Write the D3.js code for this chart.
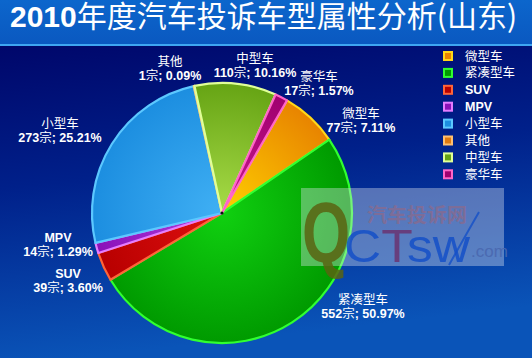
<!DOCTYPE html>
<html>
<head>
<meta charset="utf-8">
<script src="https://cdn.jsdelivr.net/npm/d3@7"></script>
<style>
  html, body { margin: 0; padding: 0; background: #00086a; }
  svg { display: block; }
</style>
</head>
<body>
<svg id="chart" width="532" height="358"></svg>
<script>
// Vehicle-type complaints, Shandong, 2010
const categories = ["微型车", "紧凑型车", "SUV", "MPV", "小型车", "其他", "中型车", "豪华车"];
const counts = [77, 552, 39, 14, 273, 1, 110, 17];
const percentLabels = ["7.11%", "50.97%", "3.60%", "1.29%", "25.21%", "0.09%", "10.16%", "1.57%"];
const titleText = "2010年度汽车投诉车型属性分析(山东)";

// Slice styling: base fill, lighter inner tone, outline colour
const baseColors  = ["#e88400", "#009a00", "#b80000", "#8a10b8", "#1c8ee0", "#e07a10", "#66a414", "#a00070"];
const innerColors = ["#ffd000", "#10d010", "#e01010", "#b040e0", "#40b0f4", "#ffa040", "#a8dc48", "#c8188c"];
const edgeColors  = ["#ffd818", "#30ff30", "#ff6438", "#e47cff", "#5cc8ff", "#ffc070", "#e0ff98", "#ff66c8"];

const W = 532, H = 358;
const svg = d3.select("#chart");
const defs = svg.append("defs");

// Background
const bg = defs.append("linearGradient").attr("id", "bg")
  .attr("x1", 0).attr("y1", 0.12).attr("x2", 0.15).attr("y2", 1);
bg.append("stop").attr("offset", 0).attr("stop-color", "#00066a");
bg.append("stop").attr("offset", 0.45).attr("stop-color", "#00208a");
bg.append("stop").attr("offset", 1).attr("stop-color", "#0a54b8");
svg.append("rect").attr("width", W).attr("height", H).attr("fill", "url(#bg)");

// Title band
const tb = defs.append("linearGradient").attr("id", "titleBand")
  .attr("x1", 0).attr("y1", 0).attr("x2", 0).attr("y2", 1);
tb.append("stop").attr("offset", 0).attr("stop-color", "#0c66cc");
tb.append("stop").attr("offset", 1).attr("stop-color", "#0a58c0");
svg.append("rect").attr("width", W).attr("height", 45).attr("fill", "url(#titleBand)");
svg.append("rect").attr("y", 44).attr("width", W).attr("height", 2).attr("fill", "#3ea6f2");

const title = svg.append("text")
  .attr("x", 10).attr("y", 27)
  .attr("fill", "#ffffff")
  .attr("font-size", 30);
title.append("tspan").attr("font-family", "Liberation Sans, Arial, sans-serif").attr("font-weight", "bold").text(titleText.slice(0, 4));
title.append("tspan").attr("font-family", "Noto Sans CJK SC, sans-serif").attr("font-weight", "normal").text(titleText.slice(4));

// Pie
const cx = 222, cy = 213, R = 130;
const deg = Math.PI / 180;
const pie = d3.pie().sort(null).value(d => d)
  .startAngle(30 * deg).endAngle(390 * deg);
const arcs = pie(counts);
const arc = d3.arc().innerRadius(0).outerRadius(R);

categories.forEach((c, i) => {
  const g = defs.append("radialGradient").attr("id", "slice" + i)
    .attr("gradientUnits", "userSpaceOnUse")
    .attr("cx", 0).attr("cy", 0).attr("r", R);
  g.append("stop").attr("offset", 0).attr("stop-color", innerColors[i]);
  g.append("stop").attr("offset", 1).attr("stop-color", baseColors[i]);
});

const pieG = svg.append("g").attr("transform", `translate(${cx},${cy})`);
pieG.selectAll("path.slice")
  .data(arcs)
  .join("path")
  .attr("class", "slice")
  .attr("d", arc)
  .attr("fill", (d, i) => `url(#slice${i})`)
  .attr("stroke", (d, i) => edgeColors[i])
  .attr("stroke-width", 2.2)
  .attr("stroke-linejoin", "round");
pieG.append("circle").attr("r", 1.6).attr("fill", "#101010");

// Data labels: two lines, category name over "count宗; percent"
const labelOffsets = [
  [139, -100], [141, 86], [-154, 60], [-164, 24],
  [-162, -90], [-52, -152], [33, -155], [97, -137]
];
const latin = "Liberation Sans, Arial, sans-serif";
const cjk = "Noto Sans CJK SC, sans-serif";
const isLatin = s => /^[A-Za-z0-9 ;.%]+$/.test(s);

const labelG = svg.append("g").attr("transform", `translate(${cx},${cy})`);
arcs.forEach((a, i) => {
  const [dx, dy] = labelOffsets[i];
  const t = labelG.append("text")
    .attr("text-anchor", "middle")
    .attr("fill", "#ffffff")
    .attr("font-size", 12.5);
  const name = categories[i];
  t.append("tspan")
    .attr("x", dx).attr("y", dy).attr("dy", "0.36em")
    .attr("font-family", isLatin(name) ? latin : cjk)
    .attr("font-weight", isLatin(name) ? "bold" : "normal")
    .text(name);
  const line2 = t.append("tspan").attr("x", dx).attr("y", dy + 14.5).attr("dy", "0.36em");
  line2.append("tspan").attr("font-family", latin).attr("font-weight", "bold").text(a.data);
  line2.append("tspan").attr("font-family", cjk).attr("font-weight", "normal").text("宗");
  line2.append("tspan").attr("font-family", latin).attr("font-weight", "bold").text("; " + percentLabels[i]);
});

// Legend
const legend = svg.append("g").attr("transform", "translate(443,56)");
const rowStep = 16.9;
categories.forEach((c, i) => {
  const row = legend.append("g").attr("transform", `translate(0,${i * rowStep})`);
  row.append("rect")
    .attr("x", 1).attr("y", -4).attr("width", 8).attr("height", 8)
    .attr("fill", baseColors[i])
    .attr("stroke", edgeColors[i]).attr("stroke-width", 2);
  row.append("text")
    .attr("x", 22).attr("y", 0).attr("dy", "0.36em")
    .attr("fill", "#ffffff")
    .attr("font-size", 12.5)
    .attr("font-family", isLatin(c) ? latin : cjk)
    .attr("font-weight", isLatin(c) ? "bold" : "normal")
    .text(c);
});

// Site watermark
const wm = svg.append("g");
wm.append("rect").attr("x", 301).attr("y", 188).attr("width", 203).attr("height", 78)
  .attr("fill", "#dfe6f0").attr("opacity", 0.38);
wm.append("text")
  .attr("transform", "translate(302,262) scale(0.72,1)")
  .attr("font-family", latin).attr("font-weight", "bold").attr("font-size", 86)
  .attr("fill", "#5a6412").attr("opacity", 0.85)
  .text("Q");
wm.append("text")
  .attr("x", 367).attr("y", 222)
  .attr("font-family", cjk).attr("font-weight", "bold").attr("font-size", 19)
  .attr("fill", "#7d6d98")
  .attr("textLength", 100).attr("lengthAdjust", "spacingAndGlyphs")
  .text("汽车投诉网");
const brand = wm.append("text")
  .attr("x", 344).attr("y", 262)
  .attr("font-family", latin).attr("font-size", 46)
  .attr("textLength", 126).attr("lengthAdjust", "spacingAndGlyphs")
  .attr("opacity", 0.85);
brand.append("tspan").attr("fill", "#1450c8").text("C");
brand.append("tspan").attr("fill", "#6a3472").text("T");
brand.append("tspan").attr("fill", "#1450c8").text("sw");
wm.append("text")
  .attr("x", 471).attr("y", 257)
  .attr("font-family", latin).attr("font-size", 17)
  .attr("fill", "#4a68b0").attr("opacity", 0.9)
  .text(".com");
wm.append("path")
  .attr("d", "M449,265 Q463,240 479,212")
  .attr("fill", "none").attr("stroke", "#1450c8").attr("stroke-width", 2).attr("opacity", 0.8);
</script>
</body>
</html>
